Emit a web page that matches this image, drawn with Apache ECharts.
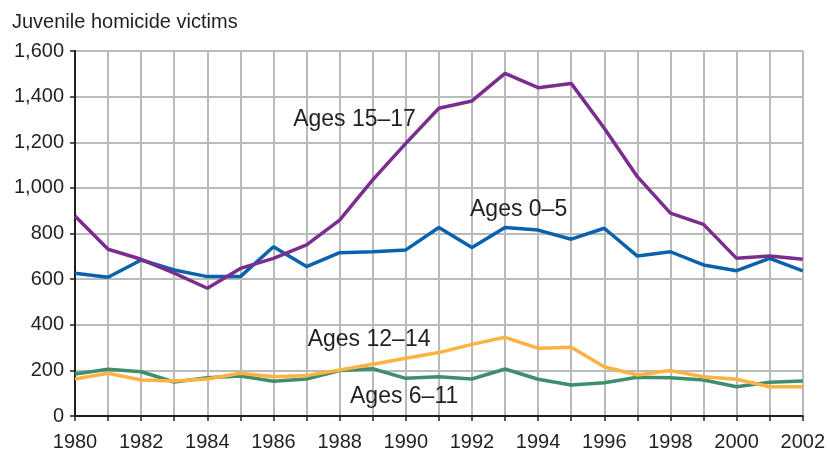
<!DOCTYPE html>
<html>
<head>
<meta charset="utf-8">
<script src="https://cdn.jsdelivr.net/npm/echarts@6/dist/echarts.min.js"></script>
<style>
html,body{margin:0;padding:0;background:#fff;}
#c{width:828px;height:452px;}
</style>
</head>
<body>
<div id="c"></div>
<script>
const years = [1980,1981,1982,1983,1984,1985,1986,1987,1988,1989,1990,1991,1992,1993,1994,1995,1996,1997,1998,1999,2000,2001,2002];
const ages15to17 = [877,731,687,626,560,647,691,750,859,1035,1195,1349,1381,1502,1439,1458,1261,1049,889,840,691,701,687];
const ages0to5   = [626,608,684,640,611,611,742,655,716,720,728,826,739,826,815,775,823,701,720,662,637,691,636];
const ages12to14 = [162,187,158,153,162,187,172,177,202,227,253,278,314,345,297,301,216,180,199,172,161,128,128];
const ages6to11  = [184,205,194,149,168,175,152,162,199,207,165,172,162,206,161,136,146,170,168,158,128,148,153];
const yTicks = [0,200,400,600,800,1000,1200,1400,1600];
const seriesNames = ['Ages 15–17','Ages 0–5','Ages 12–14','Ages 6–11'];

const FONT = 'Liberation Sans, Arial, Helvetica, sans-serif';
const pair = arr => years.map((y,i)=>[y,arr[i]]);

function lineSeries(name, arr, color, labelCoord, z){
  return {
    name: name, type:'line', data: pair(arr), z: z,
    showSymbol:false, symbol:'none',
    lineStyle:{color:color, width:3.5},
    itemStyle:{color:color},
    animation:false,
    markPoint:{
      symbol:'circle', symbolSize:0, silent:true, animation:false,
      label:{show:true, position:'inside', formatter:name, color:'#231f20',
             fontSize:23, fontFamily:FONT},
      data:[{coord:labelCoord, value:name}]
    }
  };
}

const chart = echarts.init(document.getElementById('c'), null, {renderer:'canvas'});
chart.setOption({
  backgroundColor:'#ffffff',
  animation:false,
  title:{text:'Juvenile homicide victims', left:7, top:7,
    textStyle:{fontSize:20, fontWeight:'normal', color:'#231f20', fontFamily:FONT}},
  grid:{left:75, right:23, top:51, bottom:36, containLabel:false},
  xAxis:{
    type:'value', min:years[0], max:years[years.length-1], interval:1,
    axisLine:{show:true, lineStyle:{color:'#231f20', width:2}},
    axisTick:{show:true, length:5, lineStyle:{color:'#231f20', width:1.5}},
    axisLabel:{fontSize:20, color:'#231f20', fontFamily:FONT, margin:16,
      formatter: v => (v % 2 === 0 ? String(v) : '')},
    splitLine:{show:true, lineStyle:{color:'#b9babc', width:2}}
  },
  yAxis:{
    type:'value', min:yTicks[0], max:yTicks[yTicks.length-1], interval:200,
    axisLine:{show:true, lineStyle:{color:'#231f20', width:2}},
    axisTick:{show:true, length:5, lineStyle:{color:'#231f20', width:1.5}},
    axisLabel:{fontSize:20, color:'#231f20', fontFamily:FONT, margin:11,
      formatter: v => v.toLocaleString('en-US')},
    splitLine:{show:true, lineStyle:{color:'#b9babc', width:2}}
  },
  series:[
    lineSeries(seriesNames[3], ages6to11, '#3e8e6e', [1989.95, 83], 3),
    lineSeries(seriesNames[2], ages12to14, '#fdb241', [1988.89, 333], 4),
    lineSeries(seriesNames[1], ages0to5, '#0a62ac', [1993.41, 903], 5),
    lineSeries(seriesNames[0], ages15to17, '#7b2d8e', [1988.45, 1300], 6)
  ]
});
</script>
</body>
</html>
